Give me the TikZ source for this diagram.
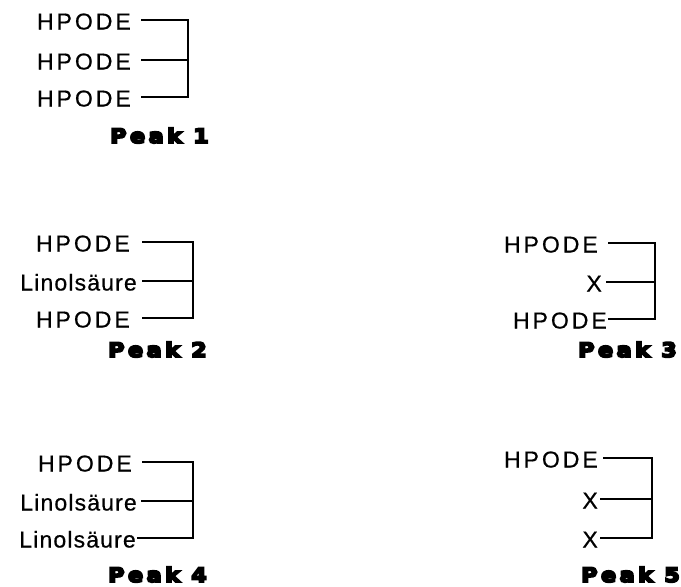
\documentclass[tikz,border=0pt]{standalone}
\usepackage{fontspec}
\setmainfont{Liberation Sans}
\newfontfamily\wideletters[LetterSpace=13,FakeBold=0.6]{Liberation Sans}
\newfontfamily\narrowletters[LetterSpace=5,FakeBold=0.6]{Liberation Sans}
\newfontfamily\peakfont[LetterSpace=17,FakeBold=9,FakeStretch=1.12]{DejaVu Sans Bold}
\begin{document}
\begin{tikzpicture}[x=1pt,y=-1pt,
  lbl/.style={anchor=east,inner sep=0pt,text height=19pt,text depth=0pt,
    font=\wideletters\fontsize{23}{23}\selectfont},
  long/.style={font=\narrowletters\fontsize{23}{23}\selectfont},
  peak/.style={anchor=base west,inner sep=0pt,font=\peakfont\fontsize{20}{20}\selectfont},
  wire/.style={line width=1.1pt,line join=miter}]
\useasboundingbox (0,0) rectangle (681,587);

% Peak 1
\node[lbl] (a1) at (131,20) {HPODE};
\node[lbl] (a2) at (131,60) {HPODE};
\node[lbl] (a3) at (131,97) {HPODE};
\coordinate (ka) at (188,0);
\draw[wire] ([xshift=10pt]a1.east) -- (ka|-a1.east) -- (ka|-a3.east) -- ([xshift=10pt]a3.east);
\draw[wire] ([xshift=10pt]a2.east) -- (ka|-a2.east);
\node[peak] (pa) at (110,143) {Peak 1};

% Peak 2
\node[lbl] (b1) at (130,242) {HPODE};
\node[lbl,long] (b2) at (137,281) {Linolsäure};
\node[lbl] (b3) at (130,318) {HPODE};
\coordinate (kb) at (193,0);
\draw[wire] ([xshift=12pt]b1.east) -- (kb|-b1.east) -- (kb|-b3.east) -- ([xshift=12pt]b3.east);
\draw[wire] ([xshift=5pt]b2.east) -- (kb|-b2.east);
\node[peak] (pb) at (108,357) {Peak 2};

% Peak 3
\node[lbl] (c1) at (598,243) {HPODE};
\node[lbl] (c2) at (602,282) {X};
\node[lbl] (c3) at (607,319) {HPODE};
\coordinate (kc) at (655,0);
\draw[wire] ([xshift=10pt]c1.east) -- (kc|-c1.east) -- (kc|-c3.east) -- ([xshift=1pt]c3.east);
\draw[wire] ([xshift=4pt]c2.east) -- (kc|-c2.east);
\node[peak] (pc) at (578,357) {Peak 3};

% Peak 4
\node[lbl] (d1) at (132,462) {HPODE};
\node[lbl,long] (d2) at (137,501) {Linolsäure};
\node[lbl,long] (d3) at (136,538) {Linolsäure};
\coordinate (kd) at (193,0);
\draw[wire] ([xshift=10pt]d1.east) -- (kd|-d1.east) -- (kd|-d3.east) -- ([xshift=1pt]d3.east);
\draw[wire] ([xshift=4pt]d2.east) -- (kd|-d2.east);
\node[peak] (pd) at (108,582) {Peak 4};

% Peak 5
\node[lbl] (e1) at (598,458) {HPODE};
\node[lbl] (e2) at (598,499) {X};
\node[lbl] (e3) at (598,538) {X};
\coordinate (ke) at (652,0);
\draw[wire] ([xshift=5pt]e1.east) -- (ke|-e1.east) -- (ke|-e3.east) -- ([xshift=2pt]e3.east);
\draw[wire] ([xshift=2pt]e2.east) -- (ke|-e2.east);
\node[peak] (pe) at (581,582) {Peak 5};
\end{tikzpicture}
\end{document}
